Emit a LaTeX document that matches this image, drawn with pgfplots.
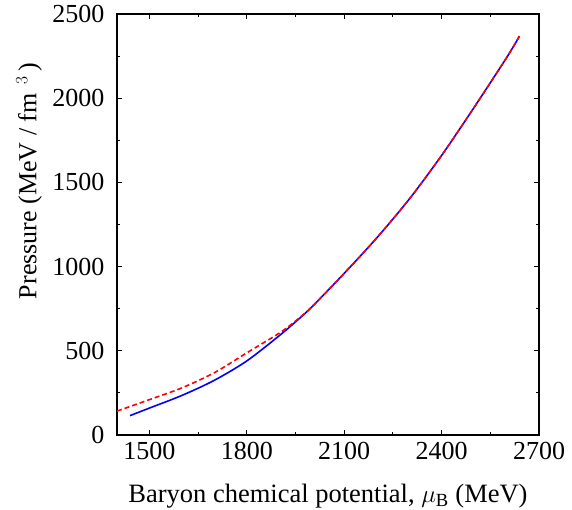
\documentclass[border=0pt]{standalone}
\usepackage{fontspec}
\setmainfont{Liberation Serif}
\usepackage{pgfplots}
\pgfplotsset{compat=1.18}
\begin{document}
\begin{tikzpicture}
\path[use as bounding box] (-117pt,-75pt) rectangle (455pt,435pt);
\begin{axis}[
  width=422pt, height=421pt, scale only axis,
  xmin=1400, xmax=2700, ymin=0, ymax=2500,
  xtick={1500,1800,2100,2400,2700},
  ytick={0,500,1000,1500,2000,2500},
  minor xtick={1650,1950,2250,2550},
  minor ytick={250,750,1250,1750,2250},
  scaled ticks=false,
  tick align=inside,
  major tick length=5pt, minor tick length=3pt,
  axis line style={line width=2pt},
  every tick/.style={line width=1pt, black},
  /pgf/number format/assume math mode=true,
  /pgf/number format/set thousands separator={},
  tick label style={font=\fontsize{26}{30}\selectfont},
  yticklabel style={xshift=-9pt},
  xticklabel style={yshift=-4pt},
  xlabel={Baryon chemical potential, $\mu_{\mathrm{B}}$ (MeV)},
  ylabel={Pressure (MeV / fm\,\,$^{3}$\,)},
  xlabel style={font=\fontsize{26.5}{30}\selectfont, at={(axis description cs:0.5,0)}, anchor=base, yshift=-68pt},
  ylabel style={font=\fontsize{26}{30}\selectfont, at={(axis description cs:0,0.603)}, anchor=center, yshift=88pt},
]
\addplot[blue, line width=1.6pt, smooth] coordinates {
(1440,115) (1500,160) (1600,235) (1700,325) (1800,440) (1900,590)
(1950,672) (2000,760) (2100,960) (2200,1170) (2300,1400) (2400,1660)
(2500,1945) (2600,2240) (2640,2369)
};
\addplot[red, line width=1.6pt, dash pattern=on 5pt off 3pt, smooth] coordinates {
(1400,142) (1500,210) (1600,280) (1700,370) (1800,488) (1900,605)
(1950,677) (2000,761) (2100,960) (2200,1170) (2300,1400) (2400,1660)
(2500,1945) (2600,2240) (2640,2369)
};
\end{axis}
\end{tikzpicture}
\end{document}
